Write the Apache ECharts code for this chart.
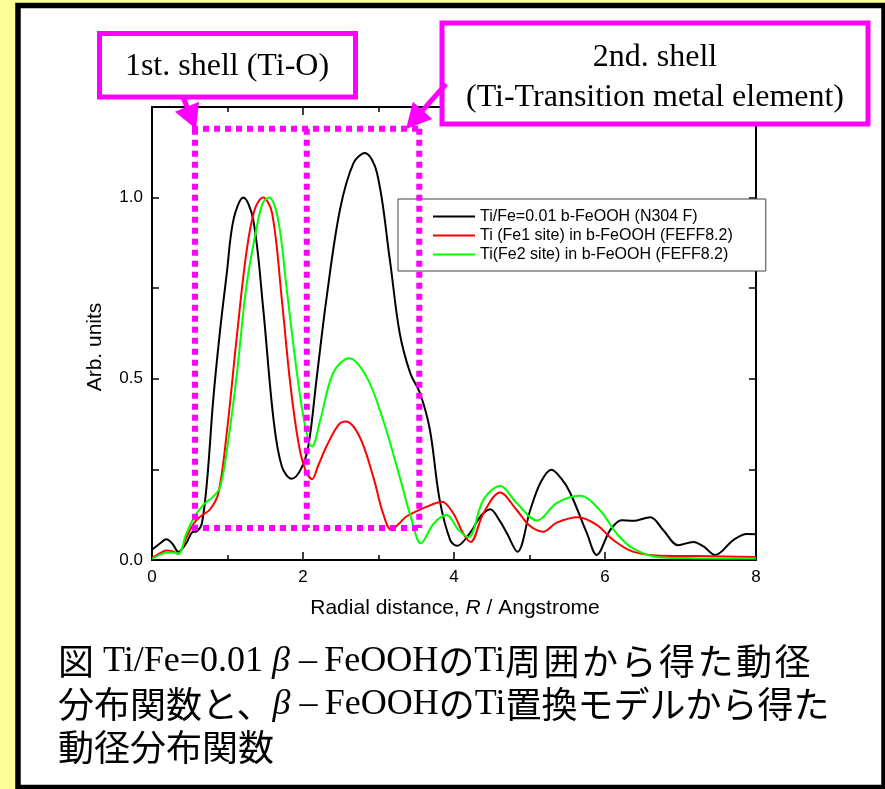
<!DOCTYPE html>
<html>
<head>
<meta charset="utf-8">
<script src="https://cdn.jsdelivr.net/npm/echarts@6/dist/echarts.min.js"></script>
<style>
  html, body { margin: 0; padding: 0; background: #ffff99; }
  #chart { width: 885px; height: 789px; }
</style>
</head>
<body>
<div id="chart"></div>
<script>
// Radial distribution functions around Ti: measured Ti/Fe=0.01 b-FeOOH and two FEFF8.2 models
const seriesNames = [
  'Ti/Fe=0.01 b-FeOOH (N304 F)',
  'Ti (Fe1 site) in b-FeOOH (FEFF8.2)',
  'Ti(Fe2 site) in b-FeOOH (FEFF8.2)'
];

// measured spectrum (black)
const rMeasured = [0.00, 0.10, 0.19, 0.27, 0.35, 0.45, 0.53, 0.60, 0.66, 0.73, 0.81, 0.90, 0.99, 1.08, 1.21, 1.34, 1.47, 1.61, 1.72, 1.85, 1.97, 2.07, 2.18, 2.31, 2.49, 2.67, 2.82, 2.98, 3.15, 3.28, 3.42, 3.55, 3.68, 3.81, 3.95, 4.04, 4.21, 4.35, 4.48, 4.60, 4.70, 4.84, 5.01, 5.15, 5.29, 5.42, 5.54, 5.76, 5.89, 6.07, 6.22, 6.37, 6.60, 6.77, 6.97, 7.17, 7.30, 7.46, 7.70, 7.88, 8.00];
const vMeasured = [0.028, 0.045, 0.057, 0.045, 0.023, 0.045, 0.076, 0.080, 0.100, 0.220, 0.440, 0.630, 0.790, 0.940, 1.000, 0.940, 0.700, 0.387, 0.258, 0.224, 0.250, 0.313, 0.500, 0.720, 0.967, 1.096, 1.123, 1.068, 0.829, 0.627, 0.516, 0.460, 0.360, 0.166, 0.055, 0.039, 0.074, 0.120, 0.140, 0.110, 0.074, 0.023, 0.138, 0.215, 0.249, 0.225, 0.185, 0.074, 0.014, 0.083, 0.110, 0.108, 0.118, 0.083, 0.041, 0.050, 0.038, 0.014, 0.055, 0.072, 0.071];

// FEFF model, Ti on Fe1 site (red)
const rFe1 = [0.00, 0.10, 0.19, 0.27, 0.35, 0.45, 0.55, 0.64, 0.77, 0.88, 0.99, 1.12, 1.25, 1.36, 1.47, 1.59, 1.72, 1.83, 1.94, 2.03, 2.12, 2.20, 2.31, 2.47, 2.57, 2.75, 2.93, 3.06, 3.17, 3.27, 3.37, 3.64, 3.84, 3.99, 4.12, 4.22, 4.39, 4.61, 4.83, 5.00, 5.18, 5.36, 5.64, 5.89, 6.11, 6.37, 6.73, 7.20, 7.60, 8.00];
const vFe1 = [0.005, 0.018, 0.026, 0.024, 0.017, 0.060, 0.100, 0.120, 0.140, 0.185, 0.350, 0.610, 0.848, 0.967, 1.000, 0.958, 0.718, 0.489, 0.323, 0.249, 0.223, 0.260, 0.313, 0.373, 0.382, 0.340, 0.230, 0.129, 0.083, 0.100, 0.120, 0.147, 0.161, 0.129, 0.074, 0.050, 0.129, 0.186, 0.138, 0.095, 0.078, 0.103, 0.118, 0.097, 0.055, 0.023, 0.012, 0.011, 0.010, 0.008];

// FEFF model, Ti on Fe2 site (green)
const rFe2 = [0.00, 0.10, 0.19, 0.27, 0.35, 0.45, 0.55, 0.68, 0.81, 0.90, 0.99, 1.12, 1.25, 1.39, 1.47, 1.55, 1.67, 1.78, 1.92, 2.03, 2.12, 2.23, 2.40, 2.61, 2.84, 3.06, 3.28, 3.44, 3.56, 3.73, 3.90, 4.06, 4.19, 4.39, 4.61, 4.83, 5.10, 5.36, 5.67, 5.93, 6.15, 6.37, 6.73, 7.20, 8.00];
const vFe2 = [0.003, 0.014, 0.021, 0.021, 0.017, 0.070, 0.115, 0.152, 0.175, 0.200, 0.300, 0.506, 0.755, 0.921, 0.986, 1.000, 0.940, 0.755, 0.516, 0.368, 0.313, 0.387, 0.516, 0.557, 0.506, 0.387, 0.230, 0.110, 0.046, 0.100, 0.124, 0.083, 0.063, 0.166, 0.204, 0.157, 0.109, 0.157, 0.177, 0.138, 0.074, 0.032, 0.007, 0.005, 0.004];

const seriesColors = ['#000000', '#ff0000', '#00ff00'];

// axis ranges and labelled ticks
const xRange = [0, 8];
const yRange = [0, 1.25];
const xLabelled = [0, 2, 4, 6, 8];
const yLabelled = [0, 0.5, 1.0];

// shell ranges marked with dotted boxes (R in Angstrome, height in arb. units)
const shell1R = [0.57, 2.05];
const shell2R = [2.05, 3.54];
const shellV = [0.088, 1.19];

const zip = (xs, ys) => xs.map((x, i) => [x, ys[i]]);
const seriesData = [zip(rMeasured, vMeasured), zip(rFe1, vFe1), zip(rFe2, vFe2)];

const sans = '"Liberation Sans", Arial, sans-serif';
const serif = '"Liberation Serif", "Times New Roman", serif';
const cjk = '"Noto Sans CJK JP", "Noto Sans CJK SC", sans-serif';
const magenta = '#ff00ff';

const chart = echarts.init(document.getElementById('chart'), null, { renderer: 'canvas' });

const axisLineStyle = { onZero: false, lineStyle: { color: '#000', width: 2 } };
const tickStyle = { color: '#000', width: 1.5 };

// arrow helper: shaft + triangular head
function arrow(id, from, tip, headLen, headHalf) {
  const dx = tip[0] - from[0], dy = tip[1] - from[1];
  const len = Math.hypot(dx, dy);
  const ux = dx / len, uy = dy / len;
  const bx = tip[0] - headLen * ux, by = tip[1] - headLen * uy;
  const px = -uy, py = ux;
  return [
    { type: 'line', id: id + '-shaft', z: 110,
      shape: { x1: from[0], y1: from[1], x2: bx + ux * 2, y2: by + uy * 2 },
      style: { stroke: magenta, lineWidth: 5 } },
    { type: 'polygon', id: id + '-head', z: 110,
      shape: { points: [[tip[0], tip[1]], [bx + headHalf * px, by + headHalf * py], [bx - headHalf * px, by - headHalf * py]] },
      style: { fill: magenta } }
  ];
}

// caption: CJK in sans, Latin in serif, a slightly looser run at the end of the first line
const captionRich = {
  c: { fontFamily: cjk, fontSize: 36, lineHeight: 43, color: '#000' },
  w: { fontFamily: cjk, fontSize: 36, lineHeight: 43, color: '#000', padding: [0, 2.5, 0, 0] },
  s: { fontFamily: serif, fontSize: 36, lineHeight: 43, color: '#000' },
  b: { fontFamily: serif, fontSize: 36, fontStyle: 'italic', lineHeight: 43, color: '#000' }
};
const spaced = str => Array.from(str).map(ch => '{w|' + ch + '}').join('');
const captionText = [
  '{c|図}{s| Ti/Fe=0.01 }{b|β}{s| –\u2009FeOOH}{c|の}{s|Ti}' + spaced('周囲から得た動径'),
  '{c|分布関数と、}{b|β}{s| –\u2009FeOOH}{c|の}{s|Ti}{c|置換モデルから得た}',
  '{c|動径分布関数}'
].join('\n');

const staticGraphics = [
  // white panel with heavy black frame
  { type: 'rect', id: 'panel', z: -100, silent: true,
    shape: { x: 18, y: 5.5, width: 866, height: 782 },
    style: { fill: '#fff', stroke: '#000', lineWidth: 5.5 } },
  // callout boxes
  { type: 'rect', id: 'call1', z: 110,
    shape: { x: 99.5, y: 33.5, width: 256, height: 63.5 },
    style: { fill: '#fff', stroke: magenta, lineWidth: 5 } },
  { type: 'text', id: 'call1-text', z: 111,
    x: 227, y: 67,
    style: { text: '1st. shell (Ti-O)', font: '32px ' + serif, fill: '#000', align: 'center', verticalAlign: 'middle' } },
  { type: 'rect', id: 'call2', z: 110,
    shape: { x: 442, y: 23, width: 426, height: 101 },
    style: { fill: '#fff', stroke: magenta, lineWidth: 5 } },
  { type: 'text', id: 'call2-text', z: 111,
    x: 655, y: 78,
    style: { text: '2nd. shell\n(Ti-Transition metal element)', font: '32px ' + serif, lineHeight: 40, fill: '#000', align: 'center', verticalAlign: 'middle' } },
  ...arrow('arrow1', [183, 97], [196, 129], 24, 13),
  ...arrow('arrow2', [446, 84], [406, 129], 25, 13),
  // axis titles
  { type: 'text', id: 'ytitle', x: 95, y: 347, rotation: Math.PI / 2,
    style: { text: 'Arb. units', font: '21px ' + sans, fill: '#000', align: 'center', verticalAlign: 'middle' } },
  { type: 'text', id: 'xtitle', x: 455, y: 608,
    style: {
      text: '{n|Radial distance, }{i|R}{n| / Angstrome}',
      align: 'center', verticalAlign: 'middle',
      rich: {
        n: { fontFamily: sans, fontSize: 21, fill: '#000' },
        i: { fontFamily: sans, fontSize: 21, fontStyle: 'italic', fill: '#000' }
      }
    } },
  // caption
  { type: 'text', id: 'caption', x: 58, y: 640,
    style: { text: captionText, rich: captionRich, fill: '#000', verticalAlign: 'top' } }
];

const option = {
  backgroundColor: '#ffff99',
  animation: false,
  grid: { left: 152, right: 129, top: 107, bottom: 229, containLabel: false },
  legend: {
    orient: 'vertical',
    left: 398, top: 199,
    icon: 'rect',
    itemWidth: 42, itemHeight: 2, itemGap: 2,
    padding: [9, 33, 8, 35],
    backgroundColor: '#fff',
    borderColor: '#444', borderWidth: 1, borderRadius: 0,
    textStyle: { fontFamily: sans, fontSize: 16, lineHeight: 17, color: '#000' },
    data: seriesNames
  },
  xAxis: [
    {
      type: 'value', min: xRange[0], max: xRange[1], interval: 2,
      axisLine: axisLineStyle,
      axisTick: { inside: true, length: 8, lineStyle: tickStyle },
      minorTick: { show: true, splitNumber: 2, length: 5, lineStyle: tickStyle },
      splitLine: { show: false },
      axisLabel: {
        margin: 9, color: '#000', fontFamily: sans, fontSize: 17,
        formatter: v => (xLabelled.includes(v) ? String(v) : '')
      }
    },
    {
      type: 'value', position: 'top', min: xRange[0], max: xRange[1], interval: 2,
      axisLine: axisLineStyle,
      axisTick: { inside: true, length: 8, lineStyle: tickStyle },
      minorTick: { show: true, splitNumber: 2, length: 5, lineStyle: tickStyle },
      splitLine: { show: false }, axisLabel: { show: false }
    }
  ],
  yAxis: [
    {
      type: 'value', min: yRange[0], max: yRange[1], interval: 0.25,
      axisLine: axisLineStyle,
      axisTick: { inside: true, length: 7, lineStyle: tickStyle },
      splitLine: { show: false },
      axisLabel: {
        margin: 9, color: '#000', fontFamily: sans, fontSize: 17,
        formatter: v => (yLabelled.some(t => Math.abs(t - v) < 1e-9) ? v.toFixed(1) : '')
      }
    },
    {
      type: 'value', position: 'right', min: yRange[0], max: yRange[1], interval: 0.25,
      axisLine: axisLineStyle,
      axisTick: { inside: true, length: 7, lineStyle: tickStyle },
      splitLine: { show: false }, axisLabel: { show: false }
    }
  ],
  series: seriesNames.map((name, i) => ({
    name,
    type: 'line',
    xAxisIndex: 0, yAxisIndex: 0,
    data: seriesData[i],
    smooth: 0.35,
    showSymbol: false,
    symbol: 'none',
    lineStyle: { color: seriesColors[i], width: 2 },
    itemStyle: { color: seriesColors[i] },
    z: 3
  })),
  graphic: { elements: staticGraphics }
};

chart.setOption(option);

// dotted shell boxes, placed through the axis scales
const px = (r, v) => chart.convertToPixel({ xAxisIndex: 0, yAxisIndex: 0 }, [r, v]);
const dotStyle = { stroke: magenta, lineWidth: 6, lineDash: [6, 5], lineCap: 'butt' };
const [xa, yTop] = px(shell1R[0], shellV[1]);
const [xm] = px(shell1R[1], shellV[1]);
const [xb, yBot] = px(shell2R[1], shellV[0]);
const seg = (id, x1, y1, x2, y2) => ({ type: 'line', id, z: 100, silent: true, shape: { x1, y1, x2, y2 }, style: dotStyle });
const boxLines = [
  seg('dot-top', xa - 3, yTop, xb + 3, yTop),
  seg('dot-bottom', xa - 3, yBot, xb + 3, yBot),
  seg('dot-left', xa, yTop, xa, yBot),
  seg('dot-mid', xm, yTop, xm, yBot),
  seg('dot-right', xb, yTop, xb, yBot)
];
chart.setOption({ graphic: { elements: boxLines } });
</script>
</body>
</html>
